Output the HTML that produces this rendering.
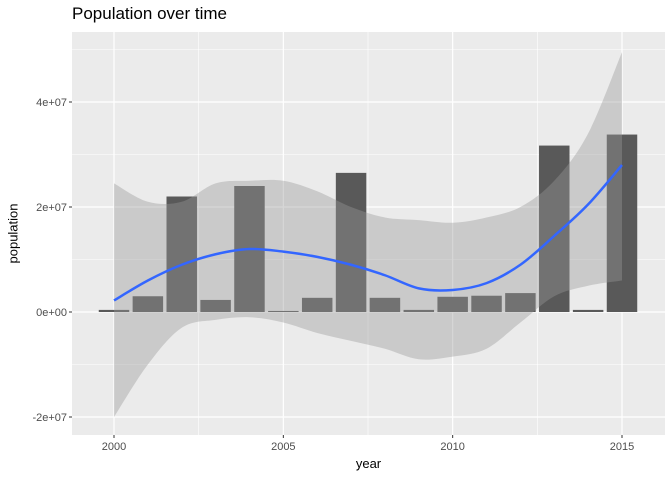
<!DOCTYPE html>
<html><head><meta charset="utf-8"><style>body{margin:0;background:#fff}svg{display:block}text{font-family:"Liberation Sans",sans-serif}</style></head>
<body>
<svg id="c" width="672" height="480"></svg>
<script>
const years=[2000,2001,2002,2003,2004,2005,2006,2007,2008,2009,2010,2011,2012,2013,2014,2015];
const population=[4e5,3e6,2.2e7,2.3e6,2.4e7,2e5,2.7e6,2.65e7,2.7e6,4e5,2.9e6,3.1e6,3.6e6,3.17e7,4e5,3.38e7];
const smoothFit=[2.2e6,6e6,9e6,1.1e7,1.2e7,1.15e7,1.05e7,9e6,7e6,4.5e6,4.2e6,5.5e6,9e6,1.45e7,2.05e7,2.8e7];
const smoothUpper=[2.45e7,2.1e7,2.1e7,2.45e7,2.5e7,2.5e7,2.3e7,2.0e7,1.8e7,1.75e7,1.7e7,1.8e7,2.0e7,2.5e7,3.4e7,4.95e7];
const smoothLower=[-2e7,-1e7,-3e6,-1.5e6,-1e6,-2e6,-4e6,-5.5e6,-7e6,-9e6,-8.5e6,-7e6,-2e6,3e6,5e6,6e6];
const xTicks=[2000,2005,2010,2015];
const yTicks=[-2e7,0,2e7,4e7];
const yTickLabels=["-2e+07","0e+00","2e+07","4e+07"];
const L=72,R=665,T=32,B=435;
const X=v=>114+(v-2000)*(622-114)/15;
const Y=v=>312-v*(312-102)/4e7;
const svg=document.getElementById('c');const NS='http://www.w3.org/2000/svg';
function el(t,a,p){const e=document.createElementNS(NS,t);for(const k in a)e.setAttribute(k,a[k]);(p||svg).appendChild(e);return e;}
const bg=el('rect',{x:L,y:T,width:R-L,height:B-T,fill:'#ebebeb'});


[1997.5,2002.5,2007.5,2012.5].forEach(v=>{if(X(v)>L)el('line',{x1:X(v),x2:X(v),y1:T,y2:B,stroke:'#fff','stroke-width':0.6});});
[-1e7,1e7,3e7,5e7].forEach(v=>{if(Y(v)>T)el('line',{x1:L,x2:R,y1:Y(v),y2:Y(v),stroke:'#fff','stroke-width':0.6});});
xTicks.forEach(v=>el('line',{x1:X(v),x2:X(v),y1:T,y2:B,stroke:'#fff','stroke-width':1.2}));
yTicks.forEach(v=>el('line',{x1:L,x2:R,y1:Y(v),y2:Y(v),stroke:'#fff','stroke-width':1.2}));
const bw=(622-114)/15*0.9;
years.forEach((yr,i)=>{const y0=Y(0),y1=Y(population[i]);
const b=el('rect',{x:X(yr)-bw/2,y:Math.min(y0,y1),width:bw,height:Math.max(Math.abs(y0-y1),1),fill:'#595959'});

});
function curve(pts){let d='M'+pts[0][0]+','+pts[0][1];for(let i=0;i<pts.length-1;i++){const p0=pts[Math.max(i-1,0)],p1=pts[i],p2=pts[i+1],p3=pts[Math.min(i+2,pts.length-1)];
d+=' C'+(p1[0]+(p2[0]-p0[0])/6)+','+(p1[1]+(p2[1]-p0[1])/6)+' '+(p2[0]-(p3[0]-p1[0])/6)+','+(p2[1]-(p3[1]-p1[1])/6)+' '+p2[0]+','+p2[1];}return d;}
const up=years.map((y,i)=>[X(y),Y(smoothUpper[i])]);
const lo=years.map((y,i)=>[X(y),Y(smoothLower[i])]).reverse();
const rd=curve(up)+' L'+curve(lo).slice(1)+' Z';
const rib=el('path',{d:rd,fill:'rgba(153,153,153,0.4)'});


const ln=el('path',{d:curve(years.map((y,i)=>[X(y),Y(smoothFit[i])])),fill:'none',stroke:'#3366ff','stroke-width':2.5});


xTicks.forEach(v=>{el('line',{x1:X(v),x2:X(v),y1:B,y2:B+3,stroke:'#333','stroke-width':1});
const t=el('text',{x:X(v),y:B+15,'text-anchor':'middle','font-size':11,fill:'#4d4d4d'});t.textContent=v;

});
yTicks.forEach((v,i)=>{el('line',{x1:L-3,x2:L,y1:Y(v),y2:Y(v),stroke:'#333','stroke-width':1});
const t=el('text',{x:L-5,y:Y(v)+4,'text-anchor':'end','font-size':11,fill:'#4d4d4d'});t.textContent=yTickLabels[i];

});
</script>
<svg width="0" height="0"></svg>
<div style="position:absolute;left:72px;top:4px;font:17px 'Liberation Sans',sans-serif;color:#000">Population over time</div>
<div style="position:absolute;left:0;width:737px;top:456px;text-align:center;font:13px 'Liberation Sans',sans-serif">year</div>
<div style="position:absolute;left:-27px;top:226px;width:80px;text-align:center;transform:rotate(-90deg);font:13px 'Liberation Sans',sans-serif">population</div>
</body></html>
